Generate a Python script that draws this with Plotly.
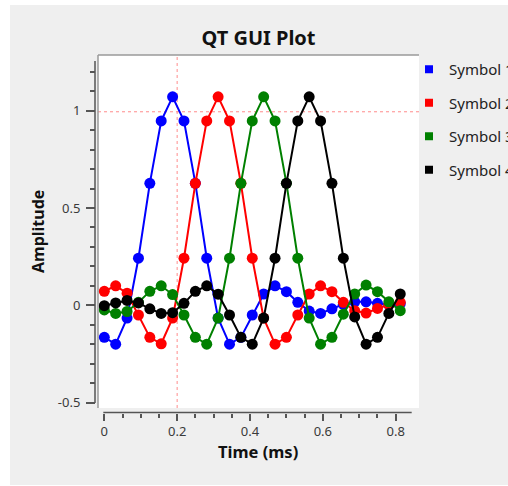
import plotly.graph_objects as go

# Figure size in pixels
W, H = 508, 486

# Sample times (ms): one sample every 1/32 ms
time_ms = [0.0, 0.03125, 0.0625, 0.09375, 0.125, 0.15625, 0.1875, 0.21875, 0.25,
           0.28125, 0.3125, 0.34375, 0.375, 0.40625, 0.4375, 0.46875, 0.5, 0.53125,
           0.5625, 0.59375, 0.625, 0.65625, 0.6875, 0.71875, 0.75, 0.78125, 0.8125]

# Shaped pulse of each symbol
symbol_1 = [-0.165, -0.200, -0.066, 0.242, 0.627, 0.948, 1.072, 0.948, 0.627, 0.242,
            -0.066, -0.200, -0.165, -0.050, 0.058, 0.100, 0.070, 0.015, -0.030, -0.042,
            -0.018, 0.005, 0.018, 0.018, 0.010, 0.002, 0.008]
symbol_2 = [0.072, 0.100, 0.062, -0.050, -0.165, -0.198, -0.066, 0.242, 0.627, 0.948,
            1.072, 0.948, 0.627, 0.242, -0.066, -0.200, -0.165, -0.050, 0.058, 0.100,
            0.070, 0.015, -0.028, -0.040, -0.016, 0.004, 0.015]
symbol_3 = [-0.024, -0.042, -0.032, 0.015, 0.072, 0.100, 0.055, -0.050, -0.165, -0.200,
            -0.066, 0.242, 0.627, 0.948, 1.072, 0.948, 0.627, 0.242, -0.066, -0.200,
            -0.165, -0.046, 0.058, 0.104, 0.070, 0.018, -0.028]
symbol_4 = [-0.002, 0.012, 0.025, 0.012, -0.018, -0.042, -0.038, 0.010, 0.072, 0.100,
            0.057, -0.050, -0.165, -0.200, -0.066, 0.242, 0.627, 0.948, 1.072, 0.948,
            0.627, 0.242, -0.060, -0.200, -0.165, -0.042, 0.058]

series_names = ["Symbol 1", "Symbol 2", "Symbol 3", "Symbol 4"]
series_values = [symbol_1, symbol_2, symbol_3, symbol_4]
series_colors = ["#0000ff", "#ff0000", "#008000", "#000000"]

x_tick_vals = [0, 0.2, 0.4, 0.6, 0.8]
x_tick_text = ["0", "0.2", "0.4", "0.6", "0.8"]
x_minor_vals = [0.05, 0.1, 0.15, 0.25, 0.3, 0.35, 0.45, 0.5, 0.55, 0.65, 0.7, 0.75]
y_tick_vals = [-0.5, 0, 0.5, 1]
y_tick_text = ["-0.5", "0", "0.5", "1"]

marker_x = 0.2      # vertical cursor marker (ms)
marker_y = 0.995    # horizontal cursor marker

# Canvas geometry (pixels)
CAN_L, CAN_R, CAN_T, CAN_B = 98, 419, 55, 408
X_RANGE = [-0.0173, 0.8640]
Y_RANGE = [-0.5283, 1.2870]
X_SPINE = [-0.0027, 0.8439]
Y_SPINE = [-0.5025, 1.256]
Y_AXIS_PX = 95       # x position of the amplitude scale backbone
X_AXIS_PX = 412.5    # y position of the time scale backbone

FONT = "Noto Sans"
TEXT = "#3a3a3a"
AXIS = "#555555"


def fx(px):
    return px / W


def fy(py):
    return 1 - py / H


fig = go.Figure()

for name, vals, col in zip(series_names, series_values, series_colors):
    fig.add_trace(go.Scatter(
        x=time_ms, y=vals, mode="lines+markers", name=name,
        line=dict(color=col, width=2),
        marker=dict(color=col, size=11, symbol="circle"),
        showlegend=False, hoverinfo="x+y+name",
    ))

# Legend entries: small coloured squares
for name, col in zip(series_names, series_colors):
    fig.add_trace(go.Scatter(
        x=[None], y=[None], mode="markers", name=name, legendgroup=name,
        marker=dict(color=col, size=8, symbol="square"),
    ))

shapes = [
    # window background
    dict(type="rect", xref="paper", yref="paper", x0=fx(10), x1=1, y0=fy(485), y1=fy(5),
         fillcolor="#efefef", line=dict(width=0), layer="below"),
    # canvas
    dict(type="rect", xref="paper", yref="paper", x0=fx(CAN_L), x1=fx(CAN_R),
         y0=fy(CAN_B), y1=fy(CAN_T), fillcolor="white", line=dict(width=0), layer="below"),
    # canvas frame (top & left)
    dict(type="line", xref="paper", yref="paper", x0=fx(CAN_L), x1=fx(CAN_R),
         y0=fy(CAN_T), y1=fy(CAN_T), line=dict(color="#9a9a9a", width=1.5)),
    dict(type="line", xref="paper", yref="paper", x0=fx(CAN_L), x1=fx(CAN_L),
         y0=fy(CAN_B), y1=fy(CAN_T), line=dict(color="#9a9a9a", width=1.5)),
    # scale backbones
    dict(type="line", xref="x", yref="paper", x0=X_SPINE[0], x1=X_SPINE[1],
         y0=fy(X_AXIS_PX), y1=fy(X_AXIS_PX), line=dict(color=AXIS, width=1.5)),
    dict(type="line", xref="paper", yref="y", x0=fx(Y_AXIS_PX), x1=fx(Y_AXIS_PX),
         y0=Y_SPINE[0], y1=Y_SPINE[1], line=dict(color=AXIS, width=1.5)),
    # cursor markers
    dict(type="line", xref="x", yref="paper", x0=marker_x, x1=marker_x,
         y0=fy(CAN_B), y1=fy(CAN_T), line=dict(color="#ff8c8c", width=1, dash="3px,3px"),
         layer="below"),
    dict(type="line", xref="paper", yref="y", x0=fx(CAN_L), x1=fx(CAN_R),
         y0=marker_y, y1=marker_y, line=dict(color="#ff8c8c", width=1, dash="3px,3px"),
         layer="below"),
]

annotations = [
    dict(text="<b>Amplitude</b>", xref="paper", yref="paper", x=fx(38.5), y=fy(231.5),
         textangle=-90, showarrow=False, xanchor="center", yanchor="middle",
         font=dict(family=FONT, size=16, color="#111111")),
    dict(text="<b>Time (ms)</b>", xref="paper", yref="paper", x=fx(257.5), y=fy(451),
         showarrow=False, xanchor="center", yanchor="middle",
         font=dict(family=FONT, size=16.5, color="#111111")),
]

fig.update_layout(
    width=W, height=H,
    margin=dict(l=0, r=0, t=0, b=0, autoexpand=False),
    paper_bgcolor="white",
    plot_bgcolor="rgba(0,0,0,0)",
    font=dict(family=FONT, size=13, color=TEXT),
    title=dict(text="<b>QT GUI Plot</b>", x=fx(258.5), y=fy(38), xref="paper",
               yref="paper", xanchor="center", yanchor="middle",
               font=dict(family=FONT, size=20, color="#111111")),
    xaxis=dict(
        domain=[fx(CAN_L), fx(CAN_R)], range=X_RANGE, anchor="free",
        position=fy(X_AXIS_PX), showgrid=False, zeroline=False, showline=False,
        tickmode="array", tickvals=x_tick_vals, ticktext=x_tick_text,
        ticks="outside", ticklen=7, tickwidth=1.5, tickcolor=AXIS,
        minor=dict(tickmode="array", tickvals=x_minor_vals, ticks="outside",
                   ticklen=4, tickwidth=1.5, tickcolor=AXIS, showgrid=False),
        tickfont=dict(family=FONT, size=13, color=TEXT), ticklabelstandoff=0,
        fixedrange=True,
    ),
    yaxis=dict(
        domain=[fy(CAN_B), fy(CAN_T)], range=Y_RANGE, anchor="free",
        position=fx(Y_AXIS_PX), showgrid=False, zeroline=False, showline=False,
        tickmode="array", tickvals=y_tick_vals, ticktext=y_tick_text,
        ticks="outside", ticklen=9, tickwidth=1.5, tickcolor=AXIS,
        minor=dict(tick0=0, dtick=0.1, ticks="outside", ticklen=5, tickwidth=1.5,
                   tickcolor=AXIS, showgrid=False),
        tickfont=dict(family=FONT, size=13, color=TEXT), ticklabelstandoff=3,
        fixedrange=True,
    ),
    legend=dict(
        x=fx(409), y=fy(53), xanchor="left", yanchor="top",
        bgcolor="rgba(0,0,0,0)", borderwidth=0,
        font=dict(family=FONT, size=15, color="#222222"),
        traceorder="grouped", tracegroupgap=11,
    ),
    shapes=shapes,
    annotations=annotations,
    showlegend=True,
)

fig.write_html("out.html")
